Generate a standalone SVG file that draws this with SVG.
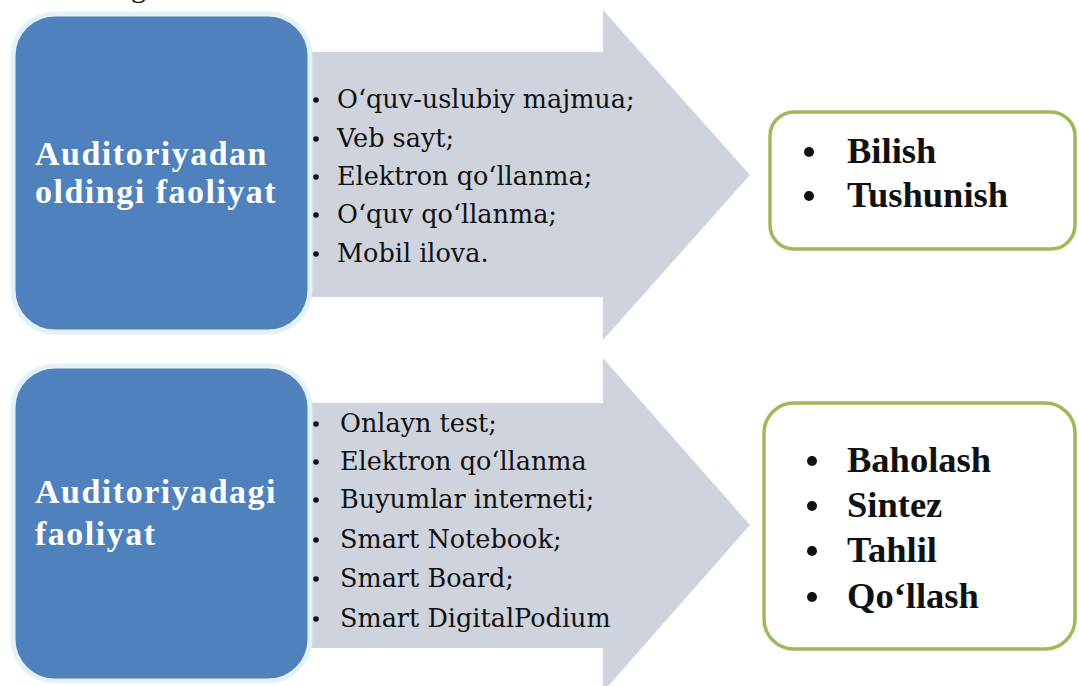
<svg xmlns="http://www.w3.org/2000/svg" width="1079" height="686" viewBox="0 0 1079 686">
<style>
.blue{fill:#4f81bd;stroke:#e4f1f7;stroke-width:5}
.green{fill:#ffffff;stroke:#9bbb59;stroke-width:3.5}
.arrow{fill:#ced3de}
.head{font-family:"Liberation Serif",serif;font-weight:bold;font-size:34px;fill:#ffffff;letter-spacing:1.5px}
.item{font-family:"DejaVu Serif","Liberation Serif",serif;font-size:25.5px;fill:#111111}
.dot{fill:#111111}
.res{font-family:"Liberation Serif",serif;font-weight:bold;font-size:36.5px;fill:#111111}
</style>
<rect width="1079" height="686" fill="#ffffff"/>
<text x="131" y="-3" font-family="Liberation Serif,serif" font-size="30" fill="#111">g</text>
<g id="connectors">
<polygon id="arrow-top" class="arrow" points="310,52 603,52 603,10 750,175 603,340 603,297 310,297"/>
<polygon id="arrow-bottom" class="arrow" points="310,403 603,403 603,358 750,525 603,692 603,648 310,648"/>
</g>
<g id="node-oldingi">
<rect class="blue" x="13" y="14" width="297" height="318" rx="42"/>
<text class="head" x="35" y="165">Auditoriyadan</text>
<text class="head" x="35" y="203">oldingi faoliyat</text>
</g>
<g id="node-auditoriyadagi">
<rect class="blue" x="13" y="366" width="297" height="315" rx="42"/>
<text class="head" x="35" y="503">Auditoriyadagi</text>
<text class="head" x="35" y="545">faoliyat</text>
</g>
<g id="list-top">
<circle class="dot" cx="316" cy="100" r="2.8"/>
<circle class="dot" cx="316" cy="139" r="2.8"/>
<circle class="dot" cx="316" cy="177" r="2.8"/>
<circle class="dot" cx="316" cy="215" r="2.8"/>
<circle class="dot" cx="316" cy="254" r="2.8"/>
<text class="item" x="337" y="108">O‘quv-uslubiy majmua;</text>
<text class="item" x="337" y="147">Veb sayt;</text>
<text class="item" x="337" y="185">Elektron qo‘llanma;</text>
<text class="item" x="337" y="223">O‘quv qo‘llanma;</text>
<text class="item" x="337" y="262">Mobil ilova.</text>
</g>
<g id="list-bottom">
<circle class="dot" cx="316" cy="424" r="2.8"/>
<circle class="dot" cx="316" cy="462" r="2.8"/>
<circle class="dot" cx="316" cy="500" r="2.8"/>
<circle class="dot" cx="316" cy="540" r="2.8"/>
<circle class="dot" cx="316" cy="579" r="2.8"/>
<circle class="dot" cx="316" cy="619" r="2.8"/>
<text class="item" x="340" y="432">Onlayn test;</text>
<text class="item" x="340" y="470">Elektron qo‘llanma</text>
<text class="item" x="340" y="508">Buyumlar interneti;</text>
<text class="item" x="340" y="548">Smart Notebook;</text>
<text class="item" x="340" y="587">Smart Board;</text>
<text class="item" x="340" y="627">Smart DigitalPodium</text>
</g>
<g id="node-bilish">
<rect class="green" x="770" y="112" width="305" height="137" rx="24"/>
<circle class="dot" cx="809" cy="152" r="5"/>
<circle class="dot" cx="809" cy="196" r="5"/>
<text class="res" x="847" y="163">Bilish</text>
<text class="res" x="847" y="207">Tushunish</text>
</g>
<g id="node-baholash">
<rect class="green" x="764" y="403" width="311" height="246" rx="30"/>
<circle class="dot" cx="812" cy="461" r="5"/>
<circle class="dot" cx="812" cy="506" r="5"/>
<circle class="dot" cx="812" cy="551" r="5"/>
<circle class="dot" cx="812" cy="597" r="5"/>
<text class="res" x="847" y="472">Baholash</text>
<text class="res" x="847" y="517">Sintez</text>
<text class="res" x="847" y="562">Tahlil</text>
<text class="res" x="847" y="608">Qo‘llash</text>
</g>
</svg>
